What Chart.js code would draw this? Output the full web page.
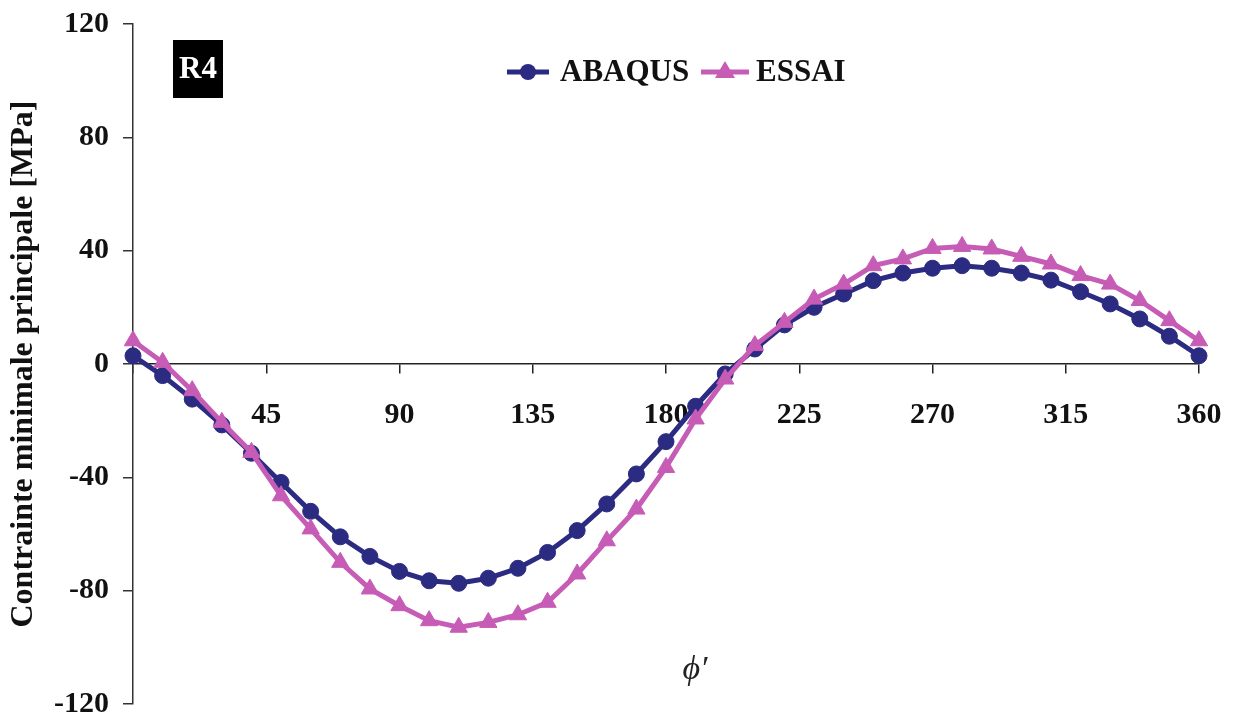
<!DOCTYPE html>
<html>
  <head>
    <title>R4 - Contrainte minimale principale</title>
    <script src="https://cdn.jsdelivr.net/npm/chart.js@4.4.1/dist/chart.umd.min.js"></script>
    <style>
      body { margin: 0; background: #fff; }
      #container { width: 1234px; height: 722px; }
    </style>
  </head>

  <body>
    <div id="container">
      <canvas id="canvas"></canvas>
    </div>
    <script>
      // angle phi' in degrees
      const angles = [0, 10, 20, 30, 40, 50, 60, 70, 80, 90, 100, 110, 120, 130, 140, 150, 160, 170, 180,
        190, 200, 210, 220, 230, 240, 250, 260, 270, 280, 290, 300, 310, 320, 330, 340, 350, 360];
      const abaqus = [2.9, -4.1, -12.4, -21.5, -31.5, -41.8, -52, -61, -67.9, -73.2, -76.5, -77.4, -75.6, -72.1,
        -66.5, -58.8, -49.4, -38.8, -27.4, -14.9, -3.5, 5.3, 13.8, 20, 24.7, 29.4, 32.1, 33.8, 34.7, 33.8,
        32.1, 29.6, 25.5, 21.2, 15.9, 9.8, 2.9];
      const essai = [8.2, 0.6, -9.4, -20.6, -31.2, -46.5, -58.2, -70, -79.4, -85.3, -90.6, -92.9, -91.2, -88.5,
        -84.1, -74.1, -62.4, -51.2, -36.5, -19.4, -5.3, 6.5, 14.7, 22.9, 28.2, 34.7, 37.1, 40.8, 41.5, 40.6,
        38, 35.3, 31.2, 28.2, 22.4, 15.3, 8.2];
      const xTicks = [45, 90, 135, 180, 225, 270, 315, 360];
      const yTicks = [-120, -80, -40, 0, 40, 80, 120];

      const navy = '#2b2b82';
      const pink = '#c65cb5';
      const serif = '"Liberation Serif", "Times New Roman", serif';

      const toPoints = (ys) => ys.map((y, i) => ({ x: angles[i], y: y }));

      // legend, R4 tag and axis symbol drawn on top
      const decorations = {
        id: 'decorations',
        afterDraw(chart) {
          const ctx = chart.ctx;
          ctx.save();

          // R4 tag
          ctx.fillStyle = '#000';
          ctx.fillRect(173, 40, 50, 58);
          ctx.fillStyle = '#fff';
          ctx.font = 'bold 31px ' + serif;
          ctx.textAlign = 'center';
          ctx.textBaseline = 'middle';
          ctx.fillText('R4', 198, 70);

          // legend
          const ly = 72;
          ctx.lineWidth = 5;
          ctx.strokeStyle = navy;
          ctx.beginPath();
          ctx.moveTo(507, ly);
          ctx.lineTo(549, ly);
          ctx.stroke();
          ctx.fillStyle = navy;
          ctx.beginPath();
          ctx.arc(528, ly, 8, 0, Math.PI * 2);
          ctx.fill();

          ctx.strokeStyle = pink;
          ctx.beginPath();
          ctx.moveTo(701, ly);
          ctx.lineTo(749, ly);
          ctx.stroke();
          ctx.fillStyle = pink;
          ctx.beginPath();
          ctx.moveTo(725, ly - 11);
          ctx.lineTo(735, ly + 6);
          ctx.lineTo(715, ly + 6);
          ctx.closePath();
          ctx.fill();

          ctx.fillStyle = '#111';
          ctx.font = 'bold 31px ' + serif;
          ctx.textAlign = 'left';
          ctx.fillText('ABAQUS', 560, ly + 1);
          ctx.fillText('ESSAI', 756, ly + 1);

          // x axis symbol
          ctx.font = 'italic 34px ' + serif;
          ctx.fillStyle = '#222';
          ctx.textAlign = 'center';
          ctx.fillText('\u03D5\u2032', 695, 670);
          ctx.restore();
        },
      };

      window.onload = () => {
        const ctx = document.getElementById('canvas').getContext('2d');
        new Chart(ctx, {
          type: 'line',
          data: {
            datasets: [
              {
                label: 'ABAQUS',
                data: toPoints(abaqus),
                borderColor: navy,
                backgroundColor: navy,
                borderWidth: 5,
                pointStyle: 'circle',
                pointRadius: 8,
                pointBorderWidth: 1,
                tension: 0,
                clip: false,
                order: 1,
              },
              {
                label: 'ESSAI',
                data: toPoints(essai),
                borderColor: pink,
                backgroundColor: pink,
                borderWidth: 5,
                pointStyle: 'triangle',
                pointRadius: 10,
                pointBorderWidth: 1,
                tension: 0,
                clip: false,
                order: 0,
              },
            ],
          },
          options: {
            responsive: true,
            maintainAspectRatio: false,
            animation: false,
            layout: {
              padding: { left: 0, right: 35, top: 24, bottom: 18 },
            },
            plugins: {
              legend: { display: false },
              tooltip: { enabled: false },
            },
            scales: {
              x: {
                type: 'linear',
                position: { y: 0 },
                min: 0,
                max: 360,
                afterFit: (scale) => {
                  scale.height = 0;
                  scale.paddingLeft = 0;
                  scale.paddingRight = 0;
                },
                afterBuildTicks: (scale) => {
                  scale.ticks = [0].concat(xTicks).map((v) => ({ value: v }));
                },
                ticks: {
                  callback: (v) => (v === 0 ? '' : String(v)),
                  color: '#111',
                  font: { family: serif, size: 30, weight: 'bold' },
                  padding: 24,
                  maxRotation: 0,
                },
                grid: {
                  drawOnChartArea: false,
                  drawTicks: true,
                  tickLength: 9,
                  color: '#222',
                  lineWidth: 1.5,
                },
                border: { display: true, color: '#222', width: 1.5 },
              },
              y: {
                min: -120,
                max: 120,
                afterFit: (scale) => {
                  scale.width = 133;
                  scale.paddingTop = 0;
                  scale.paddingBottom = 0;
                },
                afterBuildTicks: (scale) => {
                  scale.ticks = yTicks.map((v) => ({ value: v }));
                },
                ticks: {
                  callback: (v) => String(v),
                  color: '#111',
                  font: { family: serif, size: 30, weight: 'bold' },
                  padding: 14,
                },
                grid: {
                  drawOnChartArea: false,
                  drawTicks: true,
                  tickLength: 10,
                  color: '#333',
                  lineWidth: 1.5,
                },
                border: { display: true, color: '#333', width: 1.5 },
                title: {
                  display: true,
                  text: 'Contrainte minimale principale [MPa]',
                  color: '#111',
                  font: { family: serif, size: 32, weight: 'bold' },
                  padding: { top: 5, bottom: 0 },
                },
              },
            },
          },
          plugins: [decorations],
        });
      };
    </script>
  </body>
</html>
